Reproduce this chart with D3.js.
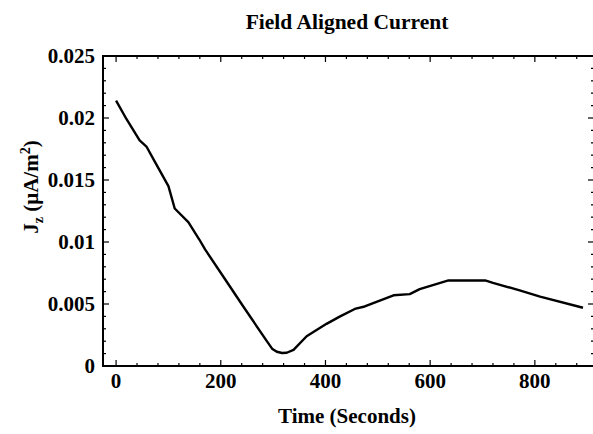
<!DOCTYPE html>
<html>
<head>
<meta charset="utf-8">
<script src="https://cdn.jsdelivr.net/npm/d3@7"></script>
<style>
  body { margin: 0; background: #fff; }
  text { font-family: "Liberation Serif", "Times New Roman", serif; font-weight: bold; fill: #000; }
</style>
</head>
<body>
<svg id="chart" width="593" height="434"></svg>
<script>
const times = [0, 20, 45, 58, 75, 100, 112, 138, 159, 170, 205, 243, 288, 298, 307, 317, 326, 339, 364, 402, 428, 456, 475, 530, 561, 580, 635, 705, 720, 771, 810, 892]
const jz = [0.0214, 0.0199, 0.0182, 0.0177, 0.0164, 0.0145, 0.0127, 0.0116, 0.0102, 0.0094, 0.0072, 0.0048, 0.0020, 0.0014, 0.00115, 0.00105, 0.00107, 0.0013, 0.0024, 0.0034, 0.0040, 0.0046, 0.0048, 0.0057, 0.0058, 0.0062, 0.0069, 0.0069, 0.0067, 0.0061, 0.0056, 0.0047]
const xTicks = [0, 200, 400, 600, 800]
const yTicks = [0, 0.005, 0.01, 0.015, 0.02, 0.025]
const yTickLabels = ['0', '0.005', '0.01', '0.015', '0.02', '0.025']

const svg = d3.select('#chart')
const m = { left: 103, right: 594, top: 56, bottom: 366 }

const x = d3.scaleLinear().domain([-25, 913]).range([m.left, m.right])
const y = d3.scaleLinear().domain([0, 0.025]).range([m.bottom, m.top])

const xMinor = d3.range(0, 901, 40).filter(d => d % 200 !== 0)
const yMinor = d3.range(1, 25).map(d => d / 1000).filter(d => Math.round(d * 1000) % 5 !== 0)

// ticks, pointing inward on all four sides
const ticks = svg.append('g').attr('stroke', '#000').attr('stroke-width', 1.2)
const addX = (vals, len) => vals.forEach(v => {
  ticks.append('line').attr('x1', x(v)).attr('x2', x(v)).attr('y1', m.bottom).attr('y2', m.bottom - len)
  ticks.append('line').attr('x1', x(v)).attr('x2', x(v)).attr('y1', m.top).attr('y2', m.top + len)
})
const addY = (vals, len) => vals.forEach(v => {
  ticks.append('line').attr('y1', y(v)).attr('y2', y(v)).attr('x1', m.left).attr('x2', m.left + len)
  ticks.append('line').attr('y1', y(v)).attr('y2', y(v)).attr('x1', m.right).attr('x2', m.right - len)
})
addX(xTicks, 6)
addX(xMinor, 3)
addY(yTicks, 6)
addY(yMinor, 3)

// frame
svg.append('rect')
  .attr('x', m.left).attr('y', m.top)
  .attr('width', m.right - m.left).attr('height', m.bottom - m.top)
  .attr('fill', 'none').attr('stroke', '#000').attr('stroke-width', 2)

// tick labels
svg.append('g').selectAll('text').data(xTicks).enter().append('text')
  .attr('x', d => x(d)).attr('y', 388)
  .attr('text-anchor', 'middle').attr('font-size', 21)
  .text(d => d)

svg.append('g').selectAll('text').data(yTicks).enter().append('text')
  .attr('x', 95).attr('y', d => y(d)).attr('dy', '0.35em')
  .attr('text-anchor', 'end').attr('font-size', 21)
  .text((d, i) => yTickLabels[i])

// curve
const line = d3.line().x((d, i) => x(times[i])).y(d => y(d)).curve(d3.curveLinear)
svg.append('path')
  .datum(jz)
  .attr('d', line)
  .attr('fill', 'none').attr('stroke', '#000').attr('stroke-width', 2.4)
  .attr('stroke-linejoin', 'round')

// titles
svg.append('text')
  .attr('x', 347).attr('y', 29)
  .attr('text-anchor', 'middle').attr('font-size', 21.5)
  .text('Field Aligned Current')

svg.append('text')
  .attr('x', 347).attr('y', 423)
  .attr('text-anchor', 'middle').attr('font-size', 21)
  .text('Time (Seconds)')

const yl = svg.append('text')
  .attr('transform', 'translate(38,187) rotate(-90)')
  .attr('text-anchor', 'middle').attr('font-size', 21)
yl.append('tspan').text('J')
yl.append('tspan').attr('font-size', 14).attr('dy', 5).text('z')
yl.append('tspan').attr('dy', -5).text(' (\u03bcA/m')
yl.append('tspan').attr('font-size', 14).attr('dy', -8).text('2')
yl.append('tspan').attr('dy', 8).text(')')
</script>
</body>
</html>
